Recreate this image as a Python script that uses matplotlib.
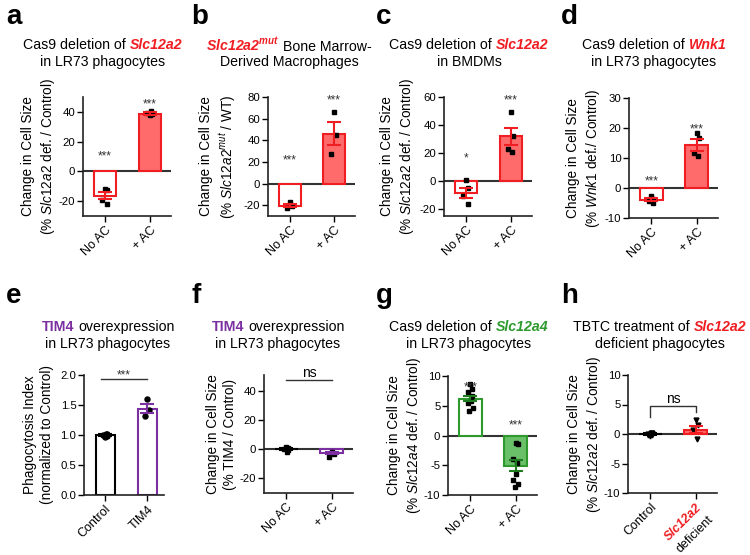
import matplotlib
matplotlib.use("Agg")
import matplotlib.pyplot as plt
import numpy as np
from matplotlib import transforms
from matplotlib.offsetbox import TextArea, HPacker, AnnotationBbox
from matplotlib.ticker import FormatStrFormatter

plt.rcParams['font.family'] = ['Liberation Sans', 'DejaVu Sans']
plt.rcParams['axes.unicode_minus'] = False
plt.rcParams['mathtext.fontset'] = 'custom'
plt.rcParams['mathtext.rm'] = 'Liberation Sans'
plt.rcParams['mathtext.it'] = 'Liberation Sans:italic'
plt.rcParams['mathtext.bf'] = 'Liberation Sans:bold'
plt.rcParams['mathtext.bfit'] = 'Liberation Sans:italic:bold'

W, H = 750, 555

RED = '#f01e23'
LRED = '#ff6b6b'
GREEN = '#2e9a2e'
LGREEN = '#6abf69'
DGREEN = '#1e7b1e'
PURPLE = '#7b2fa0'
GREY = '#333333'

# ---- data ----
ac_groups = ["No AC", "+ AC"]

a_mean = [-16.4, 38.8]
a_sem = [2.5, 0.8]
a_pts = [[-11.7, -12.5, -19.5, -21.6], [37.6, 38.4, 39.3, 40.4]]
a_stars = [("***", 12.5), ("***", 47.2)]

b_mean = [-20.3, 46.2]
b_sem = [1.2, 11.0]
b_pts = [[-17.5, -20.5, -23.0], [65.7, 45.0, 27.5]]
b_stars = [("***", 25.0), ("***", 80.0)]

c_mean = [-8.5, 32.0]
c_sem = [3.8, 6.2]
c_pts = [[0.7, -4.8, -10.7, -16.4], [49.0, 32.0, 23.0, 21.0]]
c_stars = [("*", 18.6), ("***", 60.0)]

d_mean = [-3.9, 14.4]
d_sem = [0.5, 2.0]
d_pts = [[-2.8, -3.6, -4.2, -5.0], [18.4, 16.8, 11.7, 10.6]]
d_stars = [("***", 3.4), ("***", 20.7)]

e_groups = ["Control", "TIM4"]
e_mean = [1.0, 1.44]
e_sem = [0.01, 0.08]
e_pts = [[0.97, 0.99, 1.0, 1.01, 1.02], [1.6, 1.42, 1.31]]
e_sig = ("***", 1.94, 2.05)

f_mean = [0.3, -2.5]
f_sem = [0.6, 0.8]
f_pts = [[1.5, 0.8, 0.2, -0.6, -1.8], [-1.8, -3.0, -5.3]]
f_sig = ("ns", 47.9, 52.6)

g_mean = [6.2, -5.1]
g_sem = [0.45, 0.9]
g_pts = [[8.7, 7.8, 7.3, 6.6, 5.8, 5.5, 4.7, 4.1],
         [-1.3, -1.5, -3.9, -4.7, -6.4, -7.5, -8.2, -8.6]]
g_stars = [("***", 8.6), ("***", 2.3)]

h_groups = ["Control", "Slc12a2"]
h_mean = [0.0, 0.7]
h_sem = [0.1, 0.6]
h_pts = [[-0.3, -0.1, 0.0, 0.1, 0.2, -0.2], [2.4, 1.5, 0.6, -0.9]]
h_sig = ("ns", 2.9, 3.8, 4.7, 6.0)

fig = plt.figure(figsize=(7.5, 5.55), dpi=100)


def make_ax(l, t, w, h):
    ax = fig.add_axes([l / W, 1 - (t + h) / H, w / W, h / H])
    ax.w_px = w
    return ax


def spread(n):
    return 0.06 * np.sin(np.arange(n) * 2.3)


def bars(ax, mean, sem, pts, edges, fills, ecols, width=0.5, marker='s', ms=2.6):
    x = np.arange(len(mean))
    ax.bar(x, mean, width=width, color=fills, edgecolor=edges, linewidth=1.5, zorder=2)
    for i in x:
        ax.errorbar(i, mean[i], yerr=sem[i], fmt='none', ecolor=ecols[i],
                    elinewidth=1.5, capsize=5, capthick=1.5, zorder=4)
    for i, p in enumerate(pts):
        ax.plot(i + spread(len(p)), p, ls='none', marker=marker, ms=ms,
                color='black', zorder=3)


def style(ax, ylim, yticks, labels, ylabel, lab_px, zero=True, xlim=(-0.49, 1.47)):
    for s in ['top', 'right']:
        ax.spines[s].set_visible(False)
    for s in ['left', 'bottom']:
        ax.spines[s].set_linewidth(1.2)
        ax.spines[s].set_color('#222222')
    ax.set_xlim(*xlim)
    ax.set_ylim(*ylim)
    ax.set_yticks(yticks)
    ax.set_xticks([0, 1])
    ax.set_xticklabels(labels, rotation=45, ha='right', rotation_mode='anchor', fontsize=9)
    ax.tick_params(axis='y', length=4, width=1, labelsize=8.2, pad=1.5)
    ax.tick_params(axis='x', length=4, width=1, pad=2)
    if zero:
        ax.axhline(0, color=GREY, lw=1.5, zorder=1)
    ax.set_ylabel(ylabel, fontsize=9.8, linespacing=1.3)
    ax.yaxis.set_label_coords(lab_px / ax.w_px, 0.5)


def stars(ax, items):
    for i, (s, y) in enumerate(items):
        ax.annotate(s, (i, y), xytext=(0, -2.5), textcoords='offset points',
                    ha='center', va='center', fontsize=8.5, color=GREY,
                    annotation_clip=False)


def title(xc, yc, parts, line2):
    boxes = [TextArea(t, textprops=dict(fontsize=10.2, **kw)) for t, kw in parts]
    pack = HPacker(children=boxes, align='baseline', pad=0, sep=2.9)
    ab = AnnotationBbox(pack, (xc / W, 1 - yc / H), xycoords='figure fraction',
                        frameon=False, box_alignment=(0.5, 0.5), pad=0)
    fig.add_artist(ab)
    fig.text(xc / W, 1 - (yc + 17) / H, line2, ha='center', va='center', fontsize=10.2)


def letter(x, y, s):
    fig.text(x / W, 1 - y / H, s, fontsize=20, fontweight='bold', va='baseline')


red_bi = dict(color=RED, fontweight='bold', fontstyle='italic')
green_bi = dict(color=GREEN, fontweight='bold', fontstyle='italic')
purple_b = dict(color=PURPLE, fontweight='bold')

# a
ax = make_ax(83, 97, 88, 119)
bars(ax, a_mean, a_sem, a_pts, [RED, RED], ['white', LRED], [RED, RED])
style(ax, (-30, 50), [-20, 0, 20, 40], ac_groups,
      "Change in Cell Size\n(% $\\mathit{Slc12a2}$ def. / Control)", -26)
stars(ax, a_stars)
title(103, 45, [("Cas9 deletion of", {}), ("Slc12a2", red_bi)], "in LR73 phagocytes")
letter(6, 24, 'a')

# b
ax = make_ax(268, 97, 87, 119)
bars(ax, b_mean, b_sem, b_pts, [RED, RED], ['white', LRED], [RED, RED])
style(ax, (-30, 80), [-20, 0, 20, 40, 60, 80], ac_groups,
      "Change in Cell Size\n(% $\\mathit{Slc12a2}^{\\mathit{mut}}$ / WT)", -30)
stars(ax, b_stars)
title(289, 45, [("Slc12a2$^{\\mathbfit{mut}}$", red_bi), ("Bone Marrow-", {})], "Derived Macrophages")
letter(191, 24, 'b')

# c
ax = make_ax(444, 97, 88, 119)
bars(ax, c_mean, c_sem, c_pts, [RED, RED], ['white', LRED], [RED, RED])
style(ax, (-25, 60), [-20, 0, 20, 40, 60], ac_groups,
      "Change in Cell Size\n(% $\\mathit{Slc12a2}$ def. / Control)", -28)
stars(ax, c_stars)
title(469, 45, [("Cas9 deletion of", {}), ("Slc12a2", red_bi)], "in BMDMs")
letter(376, 24, 'c')

# d
ax = make_ax(629, 98, 89, 120)
bars(ax, d_mean, d_sem, d_pts, [RED, RED], ['white', LRED], [RED, RED])
style(ax, (-10, 30), [-10, 0, 10, 20, 30], ac_groups,
      "Change in Cell Size\n(% $\\mathit{Wnk1}$ def./ Control)", -27)
stars(ax, d_stars)
title(654, 45, [("Cas9 deletion of", {}), ("Wnk1", red_bi)], "in LR73 phagocytes")
letter(561, 24, 'd')

# e
ax = make_ax(84, 375, 80, 120)
bars(ax, e_mean, e_sem, e_pts, ['black', PURPLE], ['white', 'white'], ['black', PURPLE],
     width=0.45, marker='o', ms=3.6)
style(ax, (0, 2), [0, 0.5, 1.0, 1.5, 2.0], e_groups,
      "Phagocytosis Index\n(normalized to Control)", -30, zero=False, xlim=(-0.5, 1.4))
ax.yaxis.set_major_formatter(FormatStrFormatter('%.1f'))
ax.plot([-0.1, 1.0], [e_sig[1], e_sig[1]], color=GREY, lw=1, clip_on=False)
ax.annotate(e_sig[0], (0.45, e_sig[2]), xytext=(0, -2.5), textcoords='offset points',
            ha='center', va='center', fontsize=8.5, color=GREY, annotation_clip=False)
title(108, 327, [("TIM4", purple_b), ("overexpression", {})], "in LR73 phagocytes")
letter(6, 303, 'e')

# f
ax = make_ax(264, 375, 89, 118)
bars(ax, f_mean, f_sem, f_pts, ['black', PURPLE], ['white', 'white'], ['black', PURPLE])
style(ax, (-30, 51), [-20, 0, 20, 40], ac_groups,
      "Change in Cell Size\n(% TIM4 / Control)", -27)
ax.plot([0, 1], [f_sig[1], f_sig[1]], color=GREY, lw=1, clip_on=False)
ax.text(0.5, f_sig[2], f_sig[0], ha='center', va='center', fontsize=10, color='black')
title(278, 327, [("TIM4", purple_b), ("overexpression", {})], "in LR73 phagocytes")
letter(192, 303, 'f')

# g
ax = make_ax(448, 376, 89, 119)
bars(ax, g_mean, g_sem, g_pts, [GREEN, GREEN], ['white', LGREEN], [DGREEN, DGREEN])
style(ax, (-10, 10), [-10, -5, 0, 5, 10], ac_groups,
      "Change in Cell Size\n(% $\\mathit{Slc12a4}$ def. / Control)", -25)
stars(ax, g_stars)
title(469, 327, [("Cas9 deletion of", {}), ("Slc12a4", green_bi)], "in LR73 phagocytes")
letter(376, 303, 'g')

# h
ax = make_ax(628, 375, 89, 118)
bars(ax, h_mean, h_sem, h_pts, ['black', RED], ['white', LRED], ['black', RED], marker='v', ms=3.5)
style(ax, (-10, 10), [-10, -5, 0, 5, 10], h_groups,
      "Change in Cell Size\n(% $\\mathit{Slc12a2}$ def. / Control)", -25)
lab = ax.get_xticklabels()[1]
lab.set_color(RED)
lab.set_fontweight('bold')
lab.set_fontstyle('italic')
off = transforms.ScaledTranslation(8.5 / 72, -14.5 / 72, fig.dpi_scale_trans)
ax.text(1, 0, "deficient", transform=ax.get_xaxis_transform() + off, rotation=45,
        rotation_mode='anchor', ha='right', va='top', fontsize=9)
ax.plot([0, 0, 1, 1], [h_sig[1], h_sig[3], h_sig[3], h_sig[2]], color=GREY, lw=1)
ax.text(0.5, h_sig[4], h_sig[0], ha='center', va='center', fontsize=10, color='black')
title(660, 327, [("TBTC treatment of", {}), ("Slc12a2", red_bi)], "deficient phagocytes")
letter(561, 303, 'h')

fig.savefig("out.png", dpi=100)
